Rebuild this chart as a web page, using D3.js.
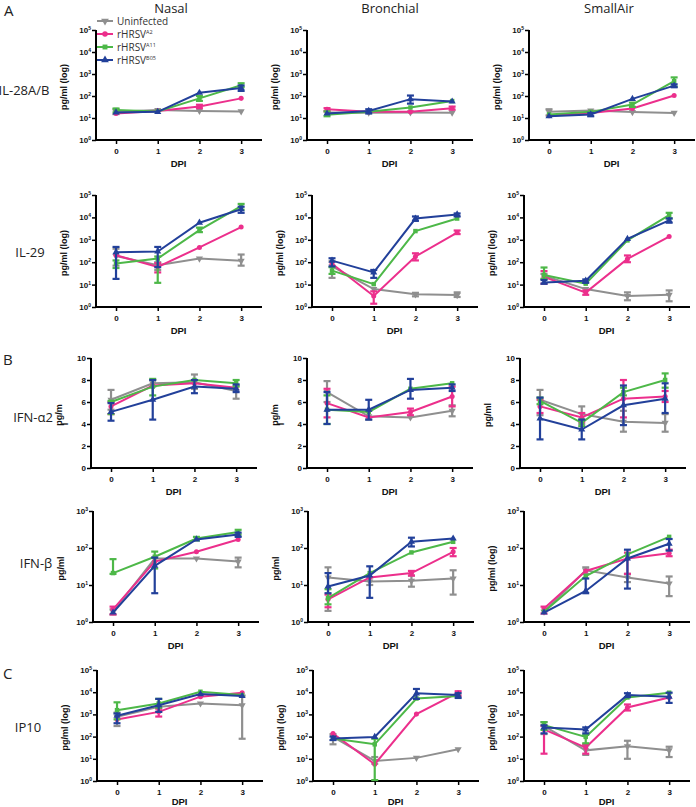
<!DOCTYPE html>
<html><head><meta charset="utf-8">
<script src="https://cdn.jsdelivr.net/npm/d3@7"></script>
<style>body{margin:0;background:#fff}</style>
</head><body><svg id="c" width="696" height="807"></svg>
<script>
// ---------- DATA ----------
const days = [0, 1, 2, 3];
const seriesLabels = ["Uninfected", "rHRSV", "rHRSV", "rHRSV"];
const seriesSup = ["", "A2", "A11", "B05"];
const tissues = ["Nasal", "Bronchial", "SmallAir"];
const cytokines = ["IL-28A/B", "IL-29", "IFN-α2", "IFN-β", "IP10"];
const sectionLetters = ["A", "", "B", "", "C"];
const logTicks5 = [1, 10, 100, 1000, 10000, 100000];
const logTicks3 = [1, 10, 100, 1000];
const linTicks = [0, 2, 4, 6, 8, 10];

// series order: Uninfected, A2, A11, B05 ; error = [lo, hi] or null
const IL28_Nasal = [[19,23,21,20],[16,21,33,78],[23,20,78,310],[18,19,140,230]];
const IL28_Nasal_err = [[[15,25],null,null,null],[null,null,[28,40],null],[[18,27],null,[60,100],[250,380]],[null,null,null,[170,300]]];
const IL28_Bronchial = [[18,17.5,18,17.5],[25,19,19,28],[14,19,30,59],[16,21,72,56]];
const IL28_Bronchial_err = [[null,null,null,null],[[20,28],null,null,[24,33]],[[12,20],null,null,null],[null,[16,25],[45,105],null]];
const IL28_SmallAir = [[19,22,18.5,17],[12.6,17,27,105],[14.5,19,41,470],[12,14.5,74,295]];
const IL28_SmallAir_err = [[[13,25],null,null,null],[null,null,null,null],[null,null,[32,50],[270,700]],[null,[12,17],null,[250,340]]];

const IL29_Nasal = [[190,73,146,115],[205,62,455,3700],[87,145,2700,32000],[280,300,5800,23000]];
const IL29_Nasal_err = [[[70,400],[45,100],null,[70,220]],[null,[35,90],null,null],[[55,120],[12,180],[2200,3500],[22000,40000]],[[18,480],[60,480],null,[16000,30000]]];
const IL29_Bronchial = [[65,6.3,3.7,3.4],[85,3.1,180,2100],[42,10.5,2450,8900],[118,35,8900,13500]];
const IL29_Bronchial_err = [[[20,110],null,[3,4.3],[2.8,4.5]],[null,[1.4,5],[120,250],[1800,2600]],[[30,60],null,null,null],[[65,150],[20,45],[7000,11000],[11000,15000]]];
const IL29_SmallAir = [[25,6.3,3.1,3.5],[22,4.4,140,1400],[27,11,940,12600],[12.5,15,1100,7400]];
const IL29_SmallAir_err = [[[18,30],null,[2,4.5],[1.8,5.5]],[[11,40],[3.5,5.5],[100,200],null],[[18,58],null,null,[9000,16000]],[[11,16],[12,17],null,[5800,9000]]];

const IFNa2_Nasal = [[6.2,7.7,7.8,7.0],[5.6,7.5,7.7,7.3],[6.0,7.4,8.0,7.7],[5.1,6.2,7.4,7.2]];
const IFNa2_Nasal_err = [[[5.3,7.1],[7.4,8.0],[7.2,8.5],[6.3,7.5]],[[4.9,6.0],null,null,null],[[4.9,6.1],[6.6,8.1],null,[7.4,8.0]],[[4.3,5.9],[4.4,8.0],[6.8,8.0],[6.9,7.6]]];
const IFNa2_Bronchial = [[6.9,4.7,4.6,5.2],[5.9,4.6,5.1,6.5],[5.3,5.1,7.2,7.7],[5.3,5.3,7.1,7.3]];
const IFNa2_Bronchial_err = [[[6.0,7.9],[4.4,5.2],null,[4.7,5.7]],[[4.6,7.2],null,[4.8,5.4],[5.6,7.4]],[[4.0,6.6],null,null,null],[[4.0,6.9],[4.4,6.2],[6.3,8.1],[7.0,7.6]]];
const IFNa2_SmallAir = [[6.2,4.9,4.2,4.1],[5.6,4.6,6.3,6.5],[6.1,4.1,6.9,8.0],[4.5,3.5,5.7,6.3]];
const IFNa2_SmallAir_err = [[[4.8,7.1],[4.0,5.6],[3.3,5.2],[3.3,4.9]],[[5.0,6.2],[4.2,5.0],[4.6,8.0],[6.0,7.0]],[[5.8,6.4],[3.8,4.4],[6.6,7.3],[7.3,8.6]],[[2.6,6.4],[2.6,4.4],[3.9,7.5],[5.0,7.7]]];

const IFNb_Nasal = [[1.9,52,52,43],[2.2,43,79,170],[21,58,180,270],[1.8,33,170,230]];
const IFNb_Nasal_err = [[[1.6,2.2],null,null,[30,55]],[[1.6,2.6],null,null,null],[[20,50],[28,80],[160,200],[230,310]],[null,[6,55],null,[200,260]]];
const IFNb_Bronchial = [[16,12.4,13,15],[4.1,16,21,79],[4.4,21,76,147],[9.1,18,147,180]];
const IFNb_Bronchial_err = [[[2,30],[10,16],[9,18],[5.5,25]],[[2.5,5.5],null,[18,24],[60,100]],[[3,7.7],null,null,null],[[6,21],[4.5,32],[110,190],null]];
const IFNb_SmallAir = [[1.9,25,16,11],[2.3,24,52,72],[1.9,17.5,67,200],[1.8,6.9,52,130]];
const IFNb_SmallAir_err = [[null,[20,30],[12,20],[5,17]],[[1.7,2.6],null,[20,75],[60,90]],[null,null,null,null],[null,[6,15],[8,90],[85,175]]];

const IP10_Nasal = [[780,2200,3100,2600],[590,1300,6300,9500],[1550,3100,10500,7400],[870,2600,8200,6700]];
const IP10_Nasal_err = [[[300,1200],[1300,2500],null,[80,7000]],[null,[800,1800],null,null],[[600,3500],[2000,5000],null,null],[[400,1100],[1300,5000],null,null]];
const IP10_Bronchial = [[97,8,11,27],[137,5.7,1030,9500],[82,45,5200,6700],[82,97,8900,7400]];
const IP10_Bronchial_err = [[[45,130],[6,12],null,null],[null,null,null,[7000,11000]],[null,[1.1,80],null,null],[[70,100],null,[5000,14000],[5500,9000]]];
const IP10_SmallAir = [[295,24,37,24],[210,32,2050,5800],[330,97,5800,9500],[260,210,7400,6300]];
const IP10_SmallAir_err = [[[130,450],[15,40],[10,65],[12,35]],[[17,300],[17,45],[1500,2800],null],[[200,450],[50,120],null,null],[[140,320],[140,260],[6000,9000],[3300,9500]]];

// ---------- LAYOUT / STYLE ----------
const colors = ["#8f8f8f", "#ec2f8c", "#4db848", "#22409a"];
const rowGeom = [
  {top:30,  bottom:140, x0:[96,307,529], type:"log", ticks:logTicks5, dpi:27},
  {top:195, bottom:307, x0:[96,312,524], type:"log", ticks:logTicks5, dpi:27},
  {top:358, bottom:468, x0:[91,307,520], type:"lin", ticks:linTicks, dpi:27},
  {top:511, bottom:622, x0:[93,308,524], type:"log", ticks:logTicks3, dpi:27},
  {top:670, bottom:781, x0:[97,313,524], type:"log", ticks:logTicks5, dpi:24}
];
const yLabels = [
  [["pg/ml (log)"],["pg/ml (log)"],["pg/ml (log)"]],
  [["pg/ml (log)"],["pg/ml (log)"],["pg/ml (log)"]],
  [["pg/m","l"],["pg/m","l"],["pg/ml"]],
  [["pg/ml"],["pg/ml"],["pg/ml (log)"]],
  [["pg/ml (log)"],["pg/ml (log)"],["pg/ml (log)"]]
];
const rowLabelPos = [{x:24,y:90},{x:30,y:252},{x:33,y:417},{x:36,y:563},{x:28,y:727}];
const letterPos = [{x:4,y:16},null,{x:3,y:365},null,{x:3,y:679}];

const panelData = [
  [[IL28_Nasal,IL28_Nasal_err],[IL28_Bronchial,IL28_Bronchial_err],[IL28_SmallAir,IL28_SmallAir_err]],
  [[IL29_Nasal,IL29_Nasal_err],[IL29_Bronchial,IL29_Bronchial_err],[IL29_SmallAir,IL29_SmallAir_err]],
  [[IFNa2_Nasal,IFNa2_Nasal_err],[IFNa2_Bronchial,IFNa2_Bronchial_err],[IFNa2_SmallAir,IFNa2_SmallAir_err]],
  [[IFNb_Nasal,IFNb_Nasal_err],[IFNb_Bronchial,IFNb_Bronchial_err],[IFNb_SmallAir,IFNb_SmallAir_err]],
  [[IP10_Nasal,IP10_Nasal_err],[IP10_Bronchial,IP10_Bronchial_err],[IP10_SmallAir,IP10_SmallAir_err]]
];

const svg = d3.select("#c");
const AX = "Liberation Sans, Arial, sans-serif";
const TF = "Open Sans, Noto Sans, sans-serif";

const symbolFor = i => [d3.symbolTriangle, d3.symbolCircle, d3.symbolSquare, d3.symbolTriangle][i];
const symSize = [22, 20, 20, 22];
const symRot = [180, 0, 0, 0];

const titleX = [171, 390, 609];
tissues.forEach((t, c) => {
  svg.append("text").attr("x", titleX[c]).attr("y", 13).attr("text-anchor", "middle")
    .attr("font-family", TF).attr("font-size", 13).attr("fill", "#222").text(t);
});

rowGeom.forEach((g, r) => {
  svg.append("text").attr("x", rowLabelPos[r].x).attr("y", rowLabelPos[r].y)
    .attr("text-anchor", "middle").attr("dominant-baseline", "central")
    .attr("font-family", TF).attr("font-size", 13).attr("fill", "#222").text(cytokines[r]);
  if (letterPos[r]) {
    svg.append("text").attr("x", letterPos[r].x).attr("y", letterPos[r].y)
      .attr("font-family", TF).attr("font-size", 15).attr("fill", "#222").text(sectionLetters[r]);
  }
  tissues.forEach((t, c) => {
    const x0 = g.x0[c];
    const [means, errs] = panelData[r][c];
    const x = d3.scaleLinear().domain([-0.48, 3.5]).range([x0, x0 + 166]);
    const y = g.type === "log"
      ? d3.scaleLog().domain([g.ticks[0], g.ticks[g.ticks.length - 1]]).range([g.bottom, g.top])
      : d3.scaleLinear().domain([0, 10]).range([g.bottom, g.top]);
    const p = svg.append("g");

    const ya = p.append("g").attr("transform", `translate(${x0},0)`)
      .call(d3.axisLeft(y).tickValues(g.ticks).tickSize(4).tickSizeOuter(0)
        .tickFormat(g.type === "log" ? d => "10" : d3.format("d")));
    ya.select(".domain").attr("stroke-width", 2).attr("d", `M0,${g.top}V${g.bottom + 1}`);
    ya.selectAll(".tick line").attr("stroke-width", 1.5);
    ya.selectAll(".tick text").attr("font-family", AX).attr("font-weight", "bold")
      .attr("font-size", 8).attr("fill", "#111").attr("x", -5);
    if (g.type === "log") {
      ya.selectAll(".tick text").each(function(d) {
        const s = d3.select(this);
        s.text(null);
        s.append("tspan").text("10");
        s.append("tspan").attr("font-size", 5).attr("dy", "-0.6em").text(Math.round(Math.log10(d)));
      });
    }

    const xa = p.append("g").attr("transform", `translate(0,${g.bottom})`)
      .call(d3.axisBottom(x).tickValues(days).tickSize(4).tickSizeOuter(0).tickFormat(d3.format("d")));
    xa.select(".domain").attr("stroke-width", 2).attr("d", `M${x0 - 1},0H${x0 + 166}`);
    xa.selectAll(".tick line").attr("stroke-width", 1.5);
    xa.selectAll(".tick text").attr("font-family", AX).attr("font-weight", "bold")
      .attr("font-size", 8).attr("fill", "#111").attr("y", 8);
    p.append("text").attr("x", x(1.5)).attr("y", g.bottom + g.dpi).attr("text-anchor", "middle")
      .attr("font-family", AX).attr("font-weight", "bold").attr("font-size", 9.5).attr("fill", "#111").text("DPI");

    const lines = yLabels[r][c];
    const yl = p.append("text").attr("transform", `translate(${x0 - 29},${(g.top + g.bottom) / 2 + 2}) rotate(-90)`)
      .attr("text-anchor", "middle").attr("font-family", AX).attr("font-weight", "bold")
      .attr("font-size", 9).attr("fill", "#111");
    if (lines.length === 1) yl.text(lines[0]);
    else {
      yl.append("tspan").attr("x", 0).attr("dy", 0).text(lines[0]);
      yl.append("tspan").attr("x", -9).attr("dy", 6).text(lines[1]);
    }

    means.forEach((vals, s) => {
      const col = colors[s];
      const gs = p.append("g");
      const line = d3.line().x((d, i) => x(days[i])).y(d => y(d));
      gs.append("path").datum(vals).attr("d", line).attr("fill", "none")
        .attr("stroke", col).attr("stroke-width", 2);
      errs[s].forEach((e, i) => {
        if (!e) return;
        const cx = x(days[i]);
        const y1 = y(e[0]), y2 = y(e[1]);
        gs.append("line").attr("x1", cx).attr("x2", cx).attr("y1", y1).attr("y2", y2)
          .attr("stroke", col).attr("stroke-width", 2.2);
        [y1, y2].forEach(yy => gs.append("line").attr("x1", cx - 3.5).attr("x2", cx + 3.5)
          .attr("y1", yy).attr("y2", yy).attr("stroke", col).attr("stroke-width", 2.2));
      });
      gs.selectAll("path.m").data(vals).join("path").attr("class", "m")
        .attr("d", d3.symbol().type(symbolFor(s)).size(symSize[s]))
        .attr("transform", (d, i) => `translate(${x(days[i])},${y(d)}) rotate(${symRot[s]})`)
        .attr("fill", col);
    });

    if (r === 0 && c === 0) {
      const ly = [21, 34, 47, 60];
      seriesLabels.forEach((lab, s) => {
        const lg = p.append("g");
        lg.append("line").attr("x1", 97).attr("x2", 113).attr("y1", ly[s]).attr("y2", ly[s])
          .attr("stroke", colors[s]).attr("stroke-width", 2);
        lg.append("path").attr("d", d3.symbol().type(symbolFor(s)).size(symSize[s] + 4))
          .attr("transform", `translate(105,${ly[s]}) rotate(${symRot[s]})`).attr("fill", colors[s]);
        const tx = lg.append("text").attr("x", 117).attr("y", ly[s] + 3.5)
          .attr("font-family", TF).attr("font-size", 10).attr("fill", "#333").text(lab);
        if (seriesSup[s]) tx.append("tspan").attr("font-size", 5.5).attr("dy", -4).text(seriesSup[s]);
      });
    }
  });
});
</script>
</body></html>
